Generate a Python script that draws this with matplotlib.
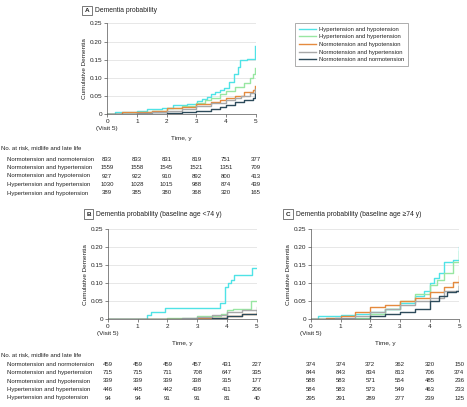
import matplotlib
matplotlib.use("Agg")
import matplotlib.pyplot as plt
from matplotlib.transforms import blended_transform_factory
from matplotlib.lines import Line2D

plt.rcParams['font.family'] = ['Liberation Sans', 'DejaVu Sans']

groups = ["Hypertension and hypotension", "Hypertension and hypertension",
          "Normotension and hypotension", "Normotension and hypertension",
          "Normotension and normotension"]
colors = ["#4fe3e6", "#98e6a2", "#e58a3e", "#a8a8a8", "#2d4b5b"]

# Panel A curves (time, cumulative)
A_t = {
    "Hypertension and hypotension": [0, 0.26, 0.99, 1.33, 1.84, 2.23, 2.68, 3.02, 3.2, 3.36, 3.5, 3.64, 3.8, 3.92, 4.09, 4.26, 4.4, 4.48, 4.71, 4.88, 4.99],
    "Hypertension and hypertension": [0, 0.6, 1.0, 1.5, 2.0, 2.5, 3.0, 3.3, 3.5, 3.8, 4.0, 4.3, 4.6, 4.8, 4.9, 4.98],
    "Normotension and hypotension": [0, 0.5, 1.0, 1.5, 2.0, 2.5, 3.0, 3.5, 3.8, 4.0, 4.3, 4.6, 4.9, 4.98],
    "Normotension and hypertension": [0, 0.6, 1.0, 1.5, 2.0, 2.5, 3.0, 3.5, 4.0, 4.3, 4.5, 4.8, 4.98],
    "Normotension and normotension": [0, 1.5, 2.0, 2.5, 3.0, 3.5, 3.8, 4.0, 4.3, 4.6, 4.9, 4.98],
}
A_v = {
    "Hypertension and hypotension": [0, 0.0055, 0.010, 0.0145, 0.018, 0.025, 0.029, 0.036, 0.042, 0.048, 0.055, 0.062, 0.068, 0.071, 0.089, 0.112, 0.130, 0.148, 0.153, 0.153, 0.187],
    "Hypertension and hypertension": [0, 0.002, 0.005, 0.010, 0.017, 0.022, 0.030, 0.038, 0.045, 0.055, 0.065, 0.075, 0.085, 0.100, 0.110, 0.126],
    "Normotension and hypotension": [0, 0.005, 0.007, 0.010, 0.017, 0.020, 0.027, 0.035, 0.040, 0.045, 0.050, 0.060, 0.068, 0.078],
    "Normotension and hypertension": [0, 0.002, 0.004, 0.007, 0.010, 0.015, 0.022, 0.030, 0.040, 0.045, 0.050, 0.058, 0.070],
    "Normotension and normotension": [0, 0.002, 0.003, 0.005, 0.010, 0.015, 0.020, 0.025, 0.035, 0.040, 0.045, 0.055],
}
# Panel B curves (baseline age <74 y)
B_t = {
    "Hypertension and hypotension": [0, 1.3, 1.45, 1.9, 3.75, 3.95, 4.05, 4.15, 4.25, 4.85, 5.0],
    "Hypertension and hypertension": [0, 0.9, 2.0, 3.0, 3.8, 4.0, 4.2, 4.8, 5.0],
    "Normotension and hypotension": [0, 3.0, 3.5, 4.0, 4.5, 5.0],
    "Normotension and hypertension": [0, 2.5, 3.0, 3.5, 4.0, 4.5, 5.0],
    "Normotension and normotension": [0, 1.5, 2.5, 3.5, 4.0, 4.5, 5.0],
}
B_v = {
    "Hypertension and hypotension": [0, 0.011, 0.021, 0.032, 0.044, 0.090, 0.100, 0.110, 0.123, 0.142, 0.142],
    "Hypertension and hypertension": [0, 0.002, 0.005, 0.010, 0.015, 0.025, 0.030, 0.050, 0.050],
    "Normotension and hypotension": [0, 0.003, 0.005, 0.010, 0.015, 0.018],
    "Normotension and hypertension": [0, 0.003, 0.007, 0.012, 0.020, 0.027, 0.033],
    "Normotension and normotension": [0, 0.001, 0.002, 0.004, 0.010, 0.014, 0.022],
}
# Panel C curves (baseline age >=74 y)
C_t = {
    "Hypertension and hypotension": [0, 0.25, 1.0, 1.5, 2.0, 2.5, 3.0, 3.5, 3.8, 4.0, 4.15, 4.3, 4.5, 4.8, 4.98],
    "Hypertension and hypertension": [0, 1.0, 1.5, 2.0, 2.5, 3.0, 3.5, 4.0, 4.25, 4.5, 4.8, 4.98],
    "Normotension and hypotension": [0, 0.5, 1.0, 1.5, 2.0, 2.5, 3.0, 3.5, 4.0, 4.5, 4.8, 4.98],
    "Normotension and hypertension": [0, 0.8, 1.5, 2.0, 2.5, 3.0, 3.5, 4.0, 4.5, 4.98],
    "Normotension and normotension": [0, 1.5, 2.0, 2.5, 3.0, 3.5, 4.0, 4.3, 4.6, 4.9, 4.98],
}
C_v = {
    "Hypertension and hypotension": [0, 0.010, 0.013, 0.015, 0.020, 0.030, 0.045, 0.065, 0.080, 0.100, 0.115, 0.130, 0.160, 0.165, 0.200],
    "Hypertension and hypertension": [0, 0.002, 0.005, 0.015, 0.030, 0.050, 0.070, 0.095, 0.110, 0.130, 0.160, 0.190],
    "Normotension and hypotension": [0, 0.005, 0.010, 0.020, 0.035, 0.040, 0.050, 0.060, 0.075, 0.090, 0.105, 0.120],
    "Normotension and hypertension": [0, 0.003, 0.010, 0.020, 0.030, 0.040, 0.050, 0.060, 0.080, 0.100],
    "Normotension and normotension": [0, 1.5e-3, 0.008, 0.015, 0.020, 0.030, 0.050, 0.065, 0.075, 0.080, 0.092],
}

risk_rows = ["Normotension and normotension", "Normotension and hypertension",
             "Normotension and hypotension", "Hypertension and hypertension",
             "Hypertension and hypotension"]
risk_A = [[833, 833, 831, 819, 751, 377],
          [1559, 1558, 1545, 1521, 1351, 709],
          [927, 922, 910, 892, 800, 413],
          [1030, 1028, 1015, 988, 874, 439],
          [389, 385, 380, 368, 320, 165]]
risk_B = [[459, 459, 459, 457, 431, 227],
          [715, 715, 711, 708, 647, 335],
          [339, 339, 339, 338, 315, 177],
          [446, 445, 442, 439, 411, 206],
          [94, 94, 91, 91, 81, 40]]
risk_C = [[374, 374, 372, 362, 320, 150],
          [844, 843, 834, 813, 706, 374],
          [588, 583, 571, 554, 485, 236],
          [584, 583, 573, 549, 463, 233],
          [295, 291, 289, 277, 239, 125]]
times = [0, 1, 2, 3, 4, 5]
xtick_labels = ["0\n(Visit 5)", "1", "2", "3", "4", "5"]
yticks = [0, 0.05, 0.10, 0.15, 0.20, 0.25]
ytick_labels = ["0", "0.05", "0.10", "0.15", "0.20", "0.25"]

W, H = 467, 407
fig = plt.figure(figsize=(W / 100, H / 100), dpi=100)

def box(l, r, t, b):
    return [l / W, 1 - b / H, (r - l) / W, (b - t) / H]

FS = 4.6
FSL = 4.35
txtc = "#222222"

def setup(ax, title, letter, letter_x, title_y):
    ax.set_xlim(0, 5)
    ax.set_ylim(0, 0.25)
    ax.set_xticks(times)
    ax.set_xticklabels(xtick_labels, fontsize=FS, color=txtc, linespacing=1.4)
    ax.set_yticks(yticks)
    ax.set_yticklabels(ytick_labels, fontsize=FS, color=txtc)
    ax.tick_params(length=2, width=0.5, pad=1.5, colors="#555555", labelcolor=txtc)
    for s in ["top", "right"]:
        ax.spines[s].set_visible(False)
    for s in ["left", "bottom"]:
        ax.spines[s].set_linewidth(0.5)
        ax.spines[s].set_color("#555555")
    ax.grid(axis="y", color="#e3e3e3", lw=0.6)
    ax.set_axisbelow(True)
    ax.set_xlabel("Time, y", fontsize=FS, color=txtc, labelpad=4)
    ax.set_ylabel("Cumulative Dementia", fontsize=FS, color=txtc, labelpad=2)
    fig.text(letter_x / W, 1 - title_y / H, letter, fontsize=FS, fontweight="bold",
             va="center", ha="center", color=txtc,
             bbox=dict(boxstyle="square,pad=0.35", fc="white", ec="#444444", lw=0.5))
    fig.text((letter_x + 8) / W, 1 - title_y / H, title, fontsize=FS + 0.3,
             va="center", ha="left", color=txtc)

def draw(ax, tdict, vdict):
    for g, c in zip(groups, colors):
        ax.step(tdict[g], vdict[g], where="post", color=c, lw=1.0)

def risk(ax, data, header_y, row_ys, labels):
    tr = blended_transform_factory(ax.transData, fig.transFigure)
    if labels:
        fig.text(1 / W, 1 - header_y / H, "No. at risk, midlife and late life",
                 fontsize=FSL, va="center", ha="left", color=txtc)
    for i, row in enumerate(data):
        y = 1 - row_ys[i] / H
        if labels:
            fig.text(7 / W, y, risk_rows[i], fontsize=FSL, va="center", ha="left", color=txtc)
        for t, v in zip(times, row):
            ax.text(t, y, str(v), transform=tr, fontsize=FSL, va="center", ha="center",
                    color=txtc, clip_on=False)

axA = fig.add_axes(box(107.3, 255.7, 23.3, 114.3))
axB = fig.add_axes(box(108.0, 256.7, 229.3, 319.3))
axC = fig.add_axes(box(311.0, 459.3, 229.3, 319.3))

setup(axA, "Dementia probability", "A", 87, 10.5)
setup(axB, "Dementia probability (baseline age <74 y)", "B", 88.5, 214)
setup(axC, "Dementia probability (baseline age \u226574 y)", "C", 288, 214)

draw(axA, A_t, A_v)
draw(axB, B_t, B_v)
draw(axC, C_t, C_v)

risk(axA, risk_A, 148, [159, 167.5, 176, 184.5, 193], True)
risk(axB, risk_B, 355, [364, 372.5, 381, 389.5, 398], True)
risk(axC, risk_C, 355, [364, 372.5, 381, 389.5, 398], False)

handles = [Line2D([0], [0], color=c, lw=1.0) for c in colors]
leg = fig.legend(handles, groups, loc="upper left", bbox_to_anchor=(295 / W, 1 - 23 / H),
                 fontsize=4.2, frameon=True, fancybox=False, edgecolor="#888888",
                 handlelength=3.0, handletextpad=0.5, borderpad=0.6, labelspacing=0.45,
                 borderaxespad=0)
leg.get_frame().set_linewidth(0.6)
for t in leg.get_texts():
    t.set_color(txtc)

fig.savefig("out.png", dpi=100)
